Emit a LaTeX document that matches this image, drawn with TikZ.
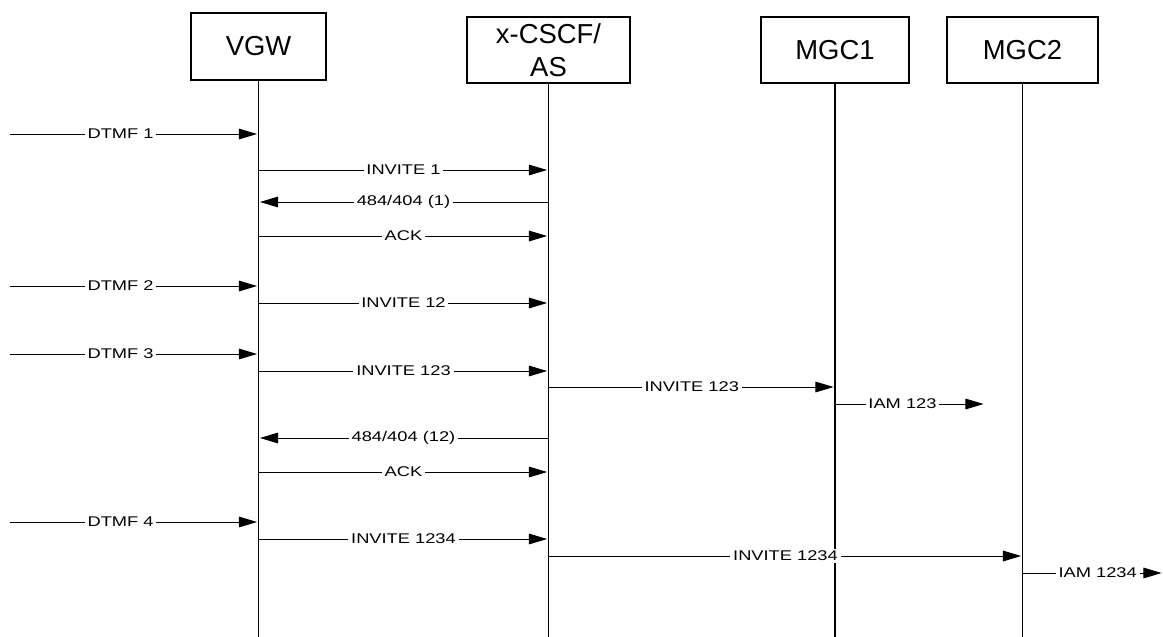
\documentclass[tikz,border=0pt]{standalone}
\usepackage{fontspec}
\setmainfont{Liberation Sans}
\newfontfamily\widefont[FakeStretch=1.3]{Liberation Sans}
\usetikzlibrary{arrows.meta}

\tikzset{
  entity/.style={draw=black, line width=0.9pt, fill=white, align=center,
    inner sep=0pt, font=\fontsize{19.5}{23.5}\selectfont},
  lifeline/.style={line width=0.9pt},
  msg/.style={line width=0.7pt, shorten >=1pt, -{Triangle[length=13pt,width=7.6pt]}},
  lbl/.style={fill=white, inner xsep=2pt, inner ysep=1.5pt,
    font=\widefont\fontsize{10}{12}\selectfont},
}

\begin{document}
\begin{tikzpicture}[x=0.025cm, y=-0.025cm]
\useasboundingbox (0,0) rectangle (1163,637);
% Entities
\node[entity, minimum width=3.375cm, minimum height=1.675cm] (vgw) at (258.5,46.5) {VGW};
\node[entity, minimum width=4.075cm, minimum height=1.65cm] (cscf) at (548.5,50) {x-CSCF/\\AS};
\node[entity, minimum width=3.7cm, minimum height=1.65cm] (mgca) at (835,50) {MGC1};
\node[entity, minimum width=3.775cm, minimum height=1.65cm] (mgcb) at (1022.5,50) {MGC2};
% Lifelines
\draw[lifeline] (vgw.south) -- (vgw |- 0,637);
\draw[lifeline] (cscf.south) -- (cscf |- 0,637);
\draw[lifeline] (mgca.south) -- (mgca |- 0,637);
\draw[lifeline] (mgcb.south) -- (mgcb |- 0,637);
% Free ends
\coordinate (user) at (10,0);
\coordinate (iamend) at (985,0);
\coordinate (edge) at (1163,0);
% DTMF digits from the user
\foreach \n/\y in {1/134, 2/286, 3/354, 4/522}
  \draw[msg] (user |- 0,\y) -- node[lbl, pos=0.445] {DTMF \n} (vgw |- 0,\y);
% First digit
\draw[msg] (vgw |- 0,170) -- node[lbl] {INVITE 1} (cscf |- 0,170);
\draw[msg] (cscf |- 0,202) -- node[lbl] {484/404 (1)} (vgw |- 0,202);
\draw[msg] (vgw |- 0,236) -- node[lbl] {ACK} (cscf |- 0,236);
% Second digit
\draw[msg] (vgw |- 0,303) -- node[lbl] {INVITE 12} (cscf |- 0,303);
% Third digit
\draw[msg] (vgw |- 0,371) -- node[lbl] {INVITE 123} (cscf |- 0,371);
\draw[msg] (cscf |- 0,387) -- node[lbl] {INVITE 123} (mgca |- 0,387);
\draw[msg] (mgca |- 0,404) -- node[lbl, pos=0.45] {IAM 123} (iamend |- 0,404);
\draw[msg] (cscf |- 0,438) -- node[lbl] {484/404 (12)} (vgw |- 0,438);
\draw[msg] (vgw |- 0,472) -- node[lbl] {ACK} (cscf |- 0,472);
% Fourth digit
\draw[msg] (vgw |- 0,539) -- node[lbl] {INVITE 1234} (cscf |- 0,539);
\draw[msg] (cscf |- 0,556) -- node[lbl] {INVITE 1234} (mgcb |- 0,556);
\draw[msg] (mgcb |- 0,573) -- node[lbl, pos=0.535] {IAM 1234} (edge |- 0,573);
\end{tikzpicture}
\end{document}
